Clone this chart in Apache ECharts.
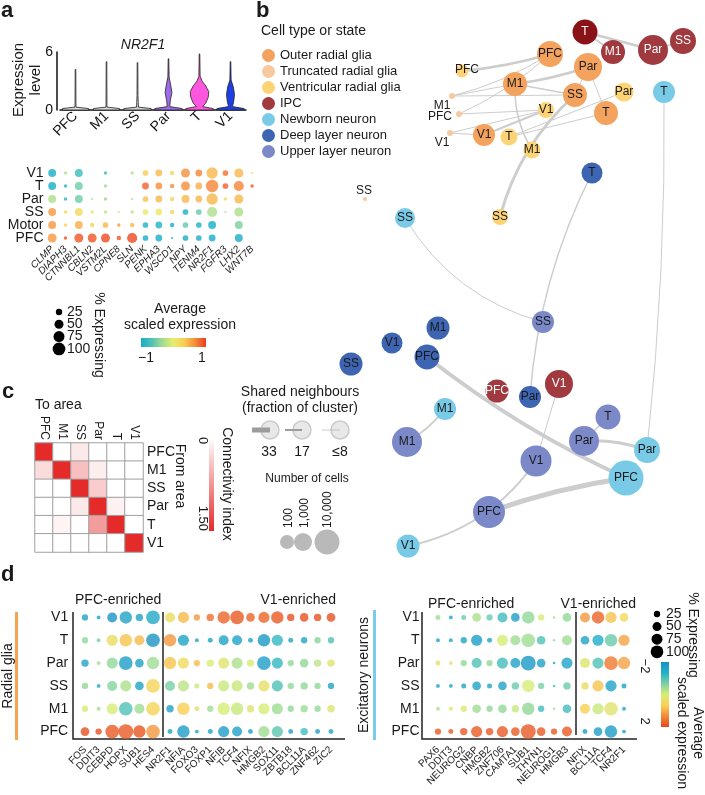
<!DOCTYPE html>
<html>
<head>
<meta charset="utf-8">
<script src="https://cdn.jsdelivr.net/npm/echarts@6/dist/echarts.min.js"></script>
<style>
html,body{margin:0;padding:0;background:#fff;}
#main{width:705px;height:795px;}
</style>
</head>
<body>
<div id="main"></div>
<script>
var FONT = "'Liberation Sans', Arial, sans-serif";

// ---- a: violin (NR2F1)
var areas = ['PFC', 'M1', 'SS', 'Par', 'T', 'V1'];
var violinColors = ['#dadada', '#dadada', '#d0d0d0', '#9d6be8', '#ff56e0', '#1f3fe6'];
// [expression level, half width as fraction of band]
var violinPFC = [[0, 0.42], [0.15, 0.42], [0.3, 0.015], [4.2, 0.01]];
var violinM1 = [[0, 0.42], [0.15, 0.42], [0.3, 0.015], [5.0, 0.01]];
var violinSS = [[0, 0.44], [0.15, 0.44], [0.3, 0.03], [0.8, 0.025], [1.5, 0.015], [4.9, 0.01]];
var violinPar = [[0, 0.44], [0.15, 0.44], [0.35, 0.04], [1.0, 0.06], [1.8, 0.11], [2.6, 0.07], [3.4, 0.02], [5.3, 0.01]];
var violinT = [[0, 0.44], [0.15, 0.44], [0.35, 0.1], [0.7, 0.2], [1.3, 0.28], [1.9, 0.3], [2.5, 0.2], [3.0, 0.08], [3.5, 0.02], [5.8, 0.01]];
var violinV1 = [[0, 0.44], [0.15, 0.44], [0.35, 0.06], [0.8, 0.1], [1.6, 0.13], [2.4, 0.09], [3.1, 0.02], [5.0, 0.01]];
var violins = [violinPFC, violinM1, violinSS, violinPar, violinT, violinV1];

// ---- a: dot plot
var aRows = ['PFC', 'Motor', 'SS', 'Par', 'T', 'V1'];
var aGenes = ['CLMP', 'DIAPH3', 'CTNNBL1', 'CBLN2', 'VSTM2L', 'CPNE8', 'SLN', 'PENK', 'EPHA3', 'WSCD1', 'NPY', 'TENM4', 'NR2F1', 'FGFR3', 'LHX2', 'WNT7B'];
var aExpr = [
    [0.6, 0.9, 0.9, 0.9, 0.95, 0.9, 0.95, -1, -1, -1, -1, -1, -1, null, -1, null],
    [0.6, 0.25, 0.5, 0.25, 0.45, 0.6, 0.45, -0.95, -0.95, -1, -0.6, -0.95, -1, null, -0.5, null],
    [0.6, 0.25, 0.2, 0.05, -0.2, -0.15, -0.25, 0.05, 0.05, 0.25, -1, -0.6, -0.3, -0.25, -0.3, null],
    [-0.3, -0.9, -0.55, -0.3, -0.4, null, -0.3, 0.4, 0.45, 0.25, 0.45, 0.45, 0.45, 0.2, 0.45, null],
    [-1, -0.9, -0.55, null, -0.35, null, null, 0.85, 0.65, 0.65, 0.65, 0.5, 0.7, 0.85, 0.7, 0.9],
    [-1, -0.25, -0.8, null, -0.8, null, -0.25, 0.3, 0.45, 0.25, 0.65, 0.7, 0.45, 0.8, 0.45, 0.25]
];
var aPct = [
    [40, 6, 40, 40, 40, 10, 51, 16, 23, 2.5, 16, 16, 23, null, 31, null],
    [31, 6, 31, 10, 16, 6, 10, 16, 23, 10, 16, 16, 31, null, 31, null],
    [31, 6, 31, 6, 6, 2.5, 6, 16, 23, 10, 16, 16, 51, 2.5, 40, null],
    [31, 6, 31, 2.5, 6, null, 2.5, 16, 23, 10, 31, 23, 63, 6, 40, null],
    [31, 6, 31, null, 6, null, null, 23, 23, 10, 40, 23, 76, 16, 51, 6],
    [31, 6, 31, null, 6, null, 6, 16, 23, 10, 40, 23, 63, 16, 40, 2.5]
];
var pctLegend = [25, 50, 75, 100];
var paletteA = ['#17aec9', '#4fc3b4', '#a6dc8c', '#e6ee6e', '#f9cc52', '#f58c3a', '#ee3c1c'];

// ---- b: network
var cellTypes = ['Outer radial glia', 'Truncated radial glia', 'Ventricular radial glia', 'IPC', 'Newborn neuron', 'Deep layer neuron', 'Upper layer neuron'];
var cellColors = ['#f4a35f', '#f8c89e', '#fcd476', '#a03a3f', '#78cae7', '#3e65b2', '#7b89c9'];
var nodeIds = ['IPC_T', 'IPC_M1', 'IPC_Par', 'IPC_SS', 'oRG_PFC', 'vRG_PFC', 'oRG_Par', 'oRG_M1', 'oRG_SS', 'vRG_Par',
    'NB_T', 'tRG_M1', 'tRG_PFC', 'vRG_V1', 'oRG_T', 'tRG_V1', 'oRG_V1', 'vRG_T', 'vRG_M1', 'DL_T',
    'tRG_SS', 'NB_SS', 'vRG_SS', 'UL_SS', 'DL_M1', 'DL_V1', 'DL_PFC', 'DL_SS', 'IPC_PFC', 'DL_Par',
    'IPC_V1', 'NB_M1', 'UL_M1', 'UL_T', 'UL_Par', 'NB_Par', 'UL_V1', 'NB_PFC', 'UL_PFC', 'NB_V1'];
var nodeType = [3, 3, 3, 3, 0, 2, 0, 0, 0, 2,
    4, 1, 1, 2, 0, 1, 0, 2, 2, 5,
    1, 4, 2, 6, 5, 5, 5, 5, 3, 5,
    3, 4, 6, 6, 6, 4, 6, 4, 6, 4];
var nodeText = ['T', 'M1', 'Par', 'SS', 'PFC', 'PFC', 'Par', 'M1', 'SS', 'Par',
    'T', 'M1', 'PFC', 'V1', 'T', 'V1', 'V1', 'T', 'M1', 'T',
    'SS', 'SS', 'SS', 'SS', 'M1', 'V1', 'PFC', 'SS', 'PFC', 'Par',
    'V1', 'M1', 'M1', 'T', 'Par', 'Par', 'V1', 'PFC', 'PFC', 'V1'];
var nodeX = [585, 613, 653, 683, 550, 462, 588, 515, 575, 624,
    664, 452, 459, 546, 606, 450, 484, 509, 532, 592,
    365, 405, 500, 543, 438, 392, 427, 351, 497, 530,
    559, 445, 407, 608, 584, 647, 536, 626, 489, 408];
var nodeY = [32, 52, 50, 41, 54, 71, 67, 84, 95, 92,
    92, 96, 114, 110, 113, 133, 135, 137, 150, 173,
    199, 218, 217, 322, 328, 343, 357, 364, 391, 397,
    384, 409, 442, 417, 441, 450, 461, 478, 512, 546];
var nodeSize = [25, 24, 30, 26, 26, 13, 28, 24, 24, 19,
    22, 6, 6, 16, 24, 6, 22, 17, 17, 21,
    4, 20, 16, 22, 23, 21, 25, 23, 23, 22,
    28, 22, 30, 25, 30, 26, 31, 35, 32, 23];
// [from, to, width, curveness]
var edges = [
    ['IPC_T', 'IPC_Par', 2.5, 0], ['IPC_T', 'IPC_M1', 2, 0], ['IPC_Par', 'IPC_SS', 1.5, 0],
    ['oRG_PFC', 'vRG_PFC', 2.5, 0.05], ['oRG_PFC', 'tRG_M1', 1, 0.08], ['oRG_PFC', 'tRG_PFC', 1, 0.08],
    ['oRG_Par', 'oRG_M1', 2.5, 0.05], ['oRG_Par', 'oRG_SS', 1, 0], ['oRG_Par', 'oRG_T', 1, 0],
    ['oRG_M1', 'oRG_SS', 1.5, 0], ['oRG_M1', 'tRG_M1', 1, 0], ['tRG_M1', 'oRG_SS', 1, 0],
    ['oRG_M1', 'vRG_M1', 1.5, -0.15], ['tRG_PFC', 'vRG_V1', 1, 0], ['vRG_Par', 'vRG_T', 1, 0],
    ['oRG_T', 'vRG_T', 1, 0], ['tRG_V1', 'oRG_V1', 1, 0], ['tRG_V1', 'vRG_V1', 1, 0],
    ['oRG_V1', 'vRG_V1', 2, 0], ['oRG_SS', 'vRG_SS', 3, -0.15], ['NB_T', 'NB_Par', 1, 0.03],
    ['DL_T', 'DL_Par', 1.5, -0.1], ['NB_SS', 'UL_SS', 1, -0.2], ['DL_PFC', 'NB_PFC', 4, -0.06],
    ['UL_PFC', 'NB_PFC', 5, 0.05], ['NB_V1', 'UL_V1', 2, -0.2], ['UL_V1', 'IPC_V1', 1, 0],
    ['UL_Par', 'NB_Par', 3, 0.1], ['UL_Par', 'UL_T', 1.5, 0], ['NB_M1', 'UL_M1', 2, 0.1]
];

// ---- c: connectivity
var connValues = [
    [1.5, 0, 0.15, 0, 0, 0],
    [0.25, 1.5, 0.45, 0.12, 0, 0],
    [0, 0, 1.5, 0.35, 0, 0],
    [0, 0, 0.15, 1.5, 0.1, 0],
    [0, 0.08, 0, 0.7, 1.5, 0],
    [0, 0, 0, 0, 0, 1.5]
];
var sharedLegend = ['33', '17', '\u22648'];
var cellsLegend = ['100', '1,000', '10,000'];

// ---- d: radial glia / excitatory neurons
var dRows = ['PFC', 'M1', 'SS', 'Par', 'T', 'V1'];
var rgGenes = ['FOS', 'DDIT3', 'CEBPD', 'HOPX', 'SUB1', 'HES4', 'NR2F1', 'NFIA', 'FOXO3', 'FOXP1', 'NFIB', 'TCF4', 'NFIX', 'HMGB2', 'SOX11', 'ZBTB18', 'BCL11A', 'ZNF462', 'ZIC2'];
var rgSplit = 6;
var rgExpr = [
    [1.9, 1.9, 1.8, 1.8, 1.85, 1.2, -1.6, -1.7, -1.6, -1.6, -1.7, -1.6, -1.6, -0.4, -0.9, -1.6, -1.1, -1.6, -1.6],
    [0.1, -0.4, 0, -1.0, -0.4, 0.6, -1.6, 0.7, 0.3, -0.4, 0, -0.1, 0.2, 0, -0.4, -0.5, -0.4, -0.5, 0.2],
    [-0.5, -1.5, -0.6, -0.3, -1.6, 0.6, -0.7, -0.2, -0.1, 0.9, -0.1, -0.1, -0.4, 0.3, -1.0, -0.5, -0.5, -0.5, -1.6],
    [-1.6, -0.4, -0.5, -1.7, -1.6, -0.4, 0.8, 0.5, 0.9, 0, 0.2, -0.3, 0, -1.7, -1.2, -0.5, -0.5, -0.2, 0.2],
    [-0.5, -0.7, 0.4, 0.8, 0.9, -1.9, 1.2, -1.6, -1.6, -1.6, -1.6, -1.6, -1.6, -1.8, -1.2, -1.6, -1.6, -0.6, -1.0],
    [-1.6, -1.6, -1.9, -1.6, -1.6, -1.5, 0.4, 0.9, 1.2, 1.6, 1.7, 1.8, 1.7, 1.7, 1.8, 1.9, 1.9, 1.9, 1.9]
];
var rgPct = [
    [30, 16, 75, 89, 62, 75, 10, 62, 6, 10, 50, 40, 10, 50, 50, 10, 22, 10, 10],
    [16, 6, 50, 75, 40, 75, 22, 62, 10, 16, 62, 62, 22, 50, 50, 16, 22, 16, 22],
    [16, 6, 40, 50, 30, 75, 40, 50, 10, 16, 50, 50, 22, 50, 50, 16, 22, 16, 16],
    [22, 6, 50, 75, 30, 62, 62, 50, 16, 22, 50, 50, 22, 75, 50, 16, 30, 22, 22],
    [16, 6, 50, 62, 40, 75, 62, 50, 6, 10, 40, 40, 10, 62, 50, 10, 16, 16, 16],
    [16, 6, 40, 62, 22, 75, 40, 50, 16, 22, 62, 75, 30, 50, 62, 22, 30, 22, 30]
];
var enGenes = ['PAX6', 'DDIT3', 'NEUROG2', 'CNBP', 'HMGB2', 'ZNF706', 'CAMTA1', 'SUB1', 'THYN1', 'NEUROG1', 'HMGB3', 'NFIX', 'BCL11A', 'TCF4', 'NR2F1'];
var enSplit = 11;
var enExpr = [
    [1.8, 1.8, 1.8, 1.8, 1.8, 1.8, 1.8, 1.8, 1.8, 1.8, 1.8, -1.7, -1.7, -1.7, -1.6],
    [-0.3, 0.3, 0.1, -0.4, -0.5, -0.5, -0.1, -0.5, -1.1, -0.4, -1.1, 0.7, -0.1, 0.2, -1.6],
    [-1.6, -1.6, -1.6, -1.6, -1.6, -1.6, -0.8, 0, -0.7, -1.2, -0.8, 0.4, 0.8, -1.6, -1.6],
    [0.4, 0.3, -0.5, -1.0, -0.5, -1.1, -1.6, -1.8, -1.6, -1.6, -1.6, 0.2, -1.0, 1.5, 1.1],
    [-1.6, -1.6, -1.6, -1.7, -1.6, 0, -0.4, -0.4, -1.0, -0.4, -0.4, -1.6, -1.4, -0.8, 1.1],
    [-0.4, -1.6, -0.8, -0.3, -0.8, -1.1, -1.7, -0.5, 0, -0.4, -0.5, 1.2, 1.7, 0.8, 0.5]
];
var enPct = [
    [16, 10, 22, 50, 22, 50, 30, 89, 30, 16, 40, 10, 30, 62, 6],
    [6, 6, 16, 30, 16, 30, 22, 62, 16, 2.5, 30, 40, 50, 75, 6],
    [6, 6, 10, 30, 10, 30, 22, 62, 16, 2.5, 22, 22, 50, 50, 10],
    [10, 6, 16, 40, 16, 50, 40, 89, 30, 2.5, 50, 40, 50, 75, 62],
    [6, 6, 16, 50, 10, 50, 40, 75, 30, 2.5, 40, 30, 50, 62, 50],
    [10, 6, 10, 30, 16, 40, 30, 62, 16, 2.5, 30, 40, 62, 50, 30]
];
var paletteD = ['#1a8ec6', '#22b0c8', '#7bd1a4', '#d6ec76', '#f8d254', '#f28a38', '#e5461a'];

function dotData(expr, pct, from, to) {
    var out = [];
    for (var r = 0; r < expr.length; r++) {
        for (var c = from; c < to; c++) {
            if (expr[r][c] === null) continue;
            out.push([c - from, r, expr[r][c], pct[r][c]]);
        }
    }
    return out;
}
function dotSizeA(v) {
    return Math.sqrt(v[3]) * 1.42;
}
function dotSizeD(v) {
    return Math.sqrt(v[3]) * 1.58;
}
function renderViolin(params, api) {
    var i = api.value(0);
    var prof = violins[i];
    var bw = api.size([1, 0])[0];
    var left = [], right = [];
    for (var k = 0; k < prof.length; k++) {
        var p = api.coord([i, prof[k][0]]);
        left.push([p[0] - prof[k][1] * bw, p[1]]);
        right.unshift([p[0] + prof[k][1] * bw, p[1]]);
    }
    return {
        type: 'polygon',
        shape: {points: left.concat(right)},
        style: {fill: violinColors[i], stroke: '#222', lineWidth: 0.8}
    };
}
function gradient(palette, vertical) {
    var stops = palette.map(function (c, i) {
        return {offset: i / (palette.length - 1), color: c};
    });
    return new echarts.graphic.LinearGradient(0, 0, vertical ? 0 : 1, vertical ? 1 : 0, stops);
}
function txt(x, y, s, size, align, valign, rot, extra) {
    return {
        type: 'text', x: x, y: y, rotation: rot || 0, silent: true,
        style: {
            text: s, fill: '#1a1a1a',
            font: (extra || '') + ' ' + size + 'px ' + FONT,
            lineHeight: size + 2,
            textAlign: align || 'left', align: align || 'left',
            textVerticalAlign: valign || 'middle', verticalAlign: valign || 'middle'
        }
    };
}
function line(x1, y1, x2, y2, w, c) {
    return {type: 'line', silent: true, shape: {x1: x1, y1: y1, x2: x2, y2: y2},
        style: {stroke: c || '#222', lineWidth: w}};
}
function circle(cx, cy, r, fill, stroke) {
    return {type: 'circle', silent: true, shape: {cx: cx, cy: cy, r: r},
        style: {fill: fill, stroke: stroke || null, lineWidth: 1.5}};
}

var labelOffsets = {tRG_M1: [-10, 10], tRG_PFC: [-19, 3], tRG_V1: [-8, 10], tRG_SS: [-1, -8], vRG_PFC: [5, -1]};
var nodes = [];
for (var i = 0; i < nodeIds.length; i++) {
    var n = {
        name: nodeIds[i], value: [nodeX[i], nodeY[i]], category: nodeType[i], symbolSize: nodeSize[i],
        label: {formatter: nodeText[i], color: nodeType[i] === 3 ? '#ffffff' : '#1a1a1a'}
    };
    if (labelOffsets[nodeIds[i]]) n.label.offset = labelOffsets[nodeIds[i]];
    if (nodeIds[i] === 'IPC_T') n.itemStyle = {color: '#8a1318'};
    nodes.push(n);
}
var links = edges.map(function (e) {
    return {source: e[0], target: e[1], lineStyle: {width: e[2], curveness: e[3]}};
});
var connData = [];
for (var r = 0; r < connValues.length; r++) {
    for (var c = 0; c < connValues[r].length; c++) {
        connData.push([c, r, connValues[r][c]]);
    }
}

function hiddenCat(grid, data, showLabels, extra) {
    var ax = {
        gridIndex: grid, type: 'category', data: data,
        axisLine: {show: false}, axisTick: {show: false}, splitLine: {show: false},
        axisLabel: {show: showLabels, color: '#1a1a1a', fontFamily: FONT, interval: 0}
    };
    for (var k in extra) {
        if (k === 'axisLabel') {
            for (var j in extra.axisLabel) ax.axisLabel[j] = extra.axisLabel[j];
        } else {
            ax[k] = extra[k];
        }
    }
    return ax;
}

var graphics = [
    // panel letters
    txt(1, 11, 'a', 22, 'left', 'middle', 0, 'bold'),
    txt(256, 11, 'b', 22, 'left', 'middle', 0, 'bold'),
    txt(2, 392, 'c', 22, 'left', 'middle', 0, 'bold'),
    txt(1, 575, 'd', 22, 'left', 'middle', 0, 'bold'),
    // a
    txt(143, 45, 'NR2F1', 14, 'center', 'middle', 0, 'italic'),
    txt(27, 80, 'Expression\nlevel', 15, 'center', 'middle', Math.PI / 2),
    txt(99, 335, '% Expressing', 14, 'center', 'middle', -Math.PI / 2),
    txt(180, 317, 'Average\nscaled expression', 14, 'center', 'middle'),
    {type: 'rect', silent: true, shape: {x: 141, y: 338, width: 65, height: 9}, style: {fill: gradient(paletteA, false)}},
    txt(146, 358, '\u22121', 14, 'center', 'middle'),
    txt(202, 358, '1', 14, 'center', 'middle'),
    // b
    txt(261, 31, 'Cell type or state', 14, 'left', 'middle'),
    // c
    txt(35, 405, 'To area', 14, 'left', 'middle'),
    txt(180, 476, 'From area', 14, 'center', 'middle', -Math.PI / 2),
    {type: 'rect', silent: true, shape: {x: 209, y: 438, width: 5, height: 93}, style: {fill: gradient(['#ffffff', '#e52a2a'], true)}},
    txt(203, 437, '0', 13, 'left', 'middle', -Math.PI / 2),
    txt(203, 531, '1.50', 13, 'right', 'middle', -Math.PI / 2),
    txt(227, 484, 'Connectivity index', 14, 'center', 'middle', -Math.PI / 2),
    txt(300, 400, 'Shared neighbours\n(fraction of cluster)', 14, 'center', 'middle'),
    circle(270, 430, 9, '#e8e8e8', '#cbcbcb'),
    circle(302, 430, 9, '#e8e8e8', '#cbcbcb'),
    circle(340, 430, 9, '#e8e8e8', '#cbcbcb'),
    line(252, 430, 270, 430, 5, '#9c9c9c'),
    line(285, 430, 302, 430, 2, '#9c9c9c'),
    line(322, 430, 340, 430, 0.6, '#aaaaaa'),
    txt(269, 452, sharedLegend[0], 14, 'center', 'middle'),
    txt(302, 452, sharedLegend[1], 14, 'center', 'middle'),
    txt(340, 452, sharedLegend[2], 14, 'center', 'middle'),
    txt(307, 479, 'Number of cells', 12, 'center', 'middle'),
    txt(289, 528, cellsLegend[0], 12, 'left', 'middle', Math.PI / 2),
    txt(305, 528, cellsLegend[1], 12, 'left', 'middle', Math.PI / 2),
    txt(328, 528, cellsLegend[2], 12, 'left', 'middle', Math.PI / 2),
    circle(287, 542, 7, '#b9b9b9'),
    circle(303, 542, 9, '#b9b9b9'),
    circle(327, 542, 12.5, '#b9b9b9'),
    // d left
    txt(75, 600, 'PFC-enriched', 14, 'left', 'middle'),
    txt(336, 600, 'V1-enriched', 14, 'right', 'middle'),
    {type: 'rect', silent: true, shape: {x: 15, y: 612, width: 3, height: 128}, style: {fill: '#f7a450'}},
    txt(8, 676, 'Radial glia', 14, 'center', 'middle', Math.PI / 2),
    {type: 'polyline', silent: true, shape: {points: [[73, 612], [73, 739], [345, 739]]}, style: {stroke: '#222', lineWidth: 1.5, fill: null}},
    line(163, 612, 163, 737, 1.5),
    // d right
    txt(428, 604, 'PFC-enriched', 14, 'left', 'middle'),
    txt(636, 604, 'V1-enriched', 14, 'right', 'middle'),
    {type: 'rect', silent: true, shape: {x: 373, y: 610, width: 3, height: 130}, style: {fill: '#7bcbec'}},
    txt(364, 675, 'Excitatory neurons', 14, 'center', 'middle', Math.PI / 2),
    {type: 'polyline', silent: true, shape: {points: [[422, 612], [422, 739], [637, 739]]}, style: {stroke: '#222', lineWidth: 1.5, fill: null}},
    line(576, 612, 576, 735, 1.5),
    txt(693, 635, '% Expressing', 14, 'center', 'middle', -Math.PI / 2),
    {type: 'rect', silent: true, shape: {x: 661, y: 662, width: 8, height: 65}, style: {fill: gradient(paletteD, true)}},
    txt(645, 666, '\u22122', 13, 'center', 'middle', -Math.PI / 2),
    txt(645, 721, '2', 13, 'center', 'middle', -Math.PI / 2),
    txt(690, 733, 'Average\nscaled expression', 14, 'center', 'middle', -Math.PI / 2)
];
// size legends (a and d)
for (var k = 0; k < pctLegend.length; k++) {
    var rr = Math.sqrt(pctLegend[k]) * 1.27 / 2;
    graphics.push(circle(59, 312 + k * 12.3, rr, '#000'));
    graphics.push(txt(67, 312 + k * 12.3, String(pctLegend[k]), 14, 'left', 'middle'));
    graphics.push(circle(657, 614 + k * 12.6, rr, '#000'));
    graphics.push(txt(666, 614 + k * 12.6, String(pctLegend[k]), 14, 'left', 'middle'));
}

var myChart = echarts.init(document.getElementById('main'));
var dTop = 606, dH = 137;
var option = {
    animation: false,
    backgroundColor: '#ffffff',
    textStyle: {fontFamily: FONT},
    grid: [
        {left: 60, top: 52, width: 186, height: 58},
        {left: 45.5, top: 166.5, width: 213.3, height: 78},
        {left: 35, top: 443, width: 108, height: 109},
        {left: 78.2, top: dTop, width: 81.6, height: dH},
        {left: 163.3, top: dTop, width: 174.4, height: dH},
        {left: 431.5, top: dTop, width: 141.9, height: dH},
        {left: 578.5, top: dTop, width: 52, height: dH},
        {left: 0, top: 0, width: 705, height: 795}
    ],
    xAxis: [
        {gridIndex: 0, type: 'category', data: areas,
            axisLine: {lineStyle: {color: '#111', width: 1.5}}, axisTick: {show: false},
            axisLabel: {rotate: 45, fontSize: 14, color: '#111', margin: 4, interval: 0, fontFamily: FONT}},
        hiddenCat(1, aGenes, true, {axisLabel: {rotate: 45, fontSize: 10, fontStyle: 'italic', margin: 3}}),
        hiddenCat(2, areas, true, {position: 'top', axisLabel: {rotate: 90, fontSize: 12, margin: 3}}),
        hiddenCat(3, rgGenes.slice(0, rgSplit), true, {axisLabel: {rotate: 45, fontSize: 10, margin: 5}}),
        hiddenCat(4, rgGenes.slice(rgSplit), true, {axisLabel: {rotate: 45, fontSize: 10, margin: 5}}),
        hiddenCat(5, enGenes.slice(0, enSplit), true, {axisLabel: {rotate: 45, fontSize: 10, margin: 5}}),
        hiddenCat(6, enGenes.slice(enSplit), true, {axisLabel: {rotate: 45, fontSize: 10, margin: 5}}),
        {gridIndex: 7, type: 'value', min: 0, max: 705, show: false}
    ],
    yAxis: [
        {gridIndex: 0, type: 'value', min: 0, max: 6, interval: 6, offset: 3,
            axisLine: {show: true, lineStyle: {color: '#111', width: 1.5}}, axisTick: {show: false},
            splitLine: {show: false}, axisLabel: {fontSize: 14, color: '#111', margin: 4, fontFamily: FONT}},
        hiddenCat(1, aRows, true, {axisLabel: {fontSize: 14, margin: 2}}),
        hiddenCat(2, areas, true, {inverse: true, position: 'right', axisLabel: {fontSize: 14, margin: 4}}),
        hiddenCat(3, dRows, true, {axisLabel: {fontSize: 14, margin: 10}}),
        hiddenCat(4, dRows, false, {}),
        hiddenCat(5, dRows, true, {axisLabel: {fontSize: 14, margin: 12}}),
        hiddenCat(6, dRows, false, {}),
        {gridIndex: 7, type: 'value', min: 0, max: 795, inverse: true, show: false}
    ],
    visualMap: [
        {type: 'continuous', show: false, seriesIndex: 1, dimension: 2, min: -1, max: 1, inRange: {color: paletteA}},
        {type: 'continuous', show: false, seriesIndex: 2, dimension: 2, min: 0, max: 1.5, inRange: {color: ['#ffffff', '#e52a2a']}},
        {type: 'continuous', show: false, seriesIndex: [3, 4, 5, 6], dimension: 2, min: -2, max: 2, inRange: {color: paletteD}}
    ],
    legend: {
        orient: 'vertical', left: 257, top: 44, itemWidth: 13, itemHeight: 13, itemGap: 3,
        icon: 'circle', selectedMode: false, data: cellTypes,
        textStyle: {fontSize: 13, color: '#1a1a1a', fontFamily: FONT}
    },
    series: [
        {type: 'custom', xAxisIndex: 0, yAxisIndex: 0, renderItem: renderViolin, silent: true,
            data: violins.map(function (v, i) { return [i, v[v.length - 1][0]]; })},
        {type: 'scatter', xAxisIndex: 1, yAxisIndex: 1, symbolSize: dotSizeA, silent: true,
            data: dotData(aExpr, aPct, 0, aGenes.length)},
        {type: 'heatmap', xAxisIndex: 2, yAxisIndex: 2, silent: true, data: connData,
            itemStyle: {borderColor: '#a0a0a0', borderWidth: 1}},
        {type: 'scatter', xAxisIndex: 3, yAxisIndex: 3, symbolSize: dotSizeD, silent: true,
            data: dotData(rgExpr, rgPct, 0, rgSplit)},
        {type: 'scatter', xAxisIndex: 4, yAxisIndex: 4, symbolSize: dotSizeD, silent: true,
            data: dotData(rgExpr, rgPct, rgSplit, rgGenes.length)},
        {type: 'scatter', xAxisIndex: 5, yAxisIndex: 5, symbolSize: dotSizeD, silent: true,
            data: dotData(enExpr, enPct, 0, enSplit)},
        {type: 'scatter', xAxisIndex: 6, yAxisIndex: 6, symbolSize: dotSizeD, silent: true,
            data: dotData(enExpr, enPct, enSplit, enGenes.length)},
        {type: 'graph', coordinateSystem: 'cartesian2d', xAxisIndex: 7, yAxisIndex: 7,
            layout: 'none', roam: false, silent: true,
            categories: cellTypes.map(function (n, i) { return {name: n, itemStyle: {color: cellColors[i]}}; }),
            data: nodes, links: links,
            lineStyle: {color: '#cdcdcd', opacity: 1},
            label: {show: true, position: 'inside', fontSize: 12, fontFamily: FONT},
            emphasis: {disabled: true}}
    ],
    graphic: graphics
};
myChart.setOption(option);
</script>
</body>
</html>
